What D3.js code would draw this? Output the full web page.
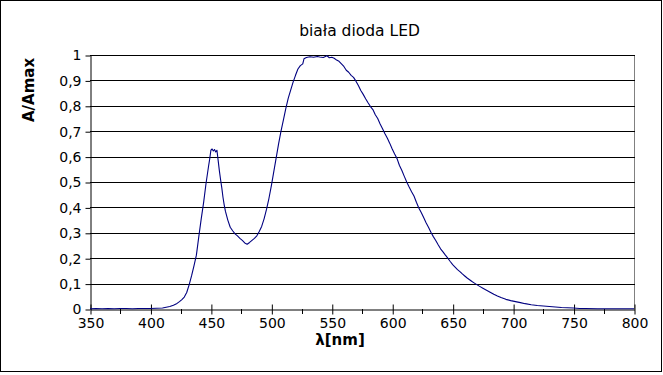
<!DOCTYPE html>
<html>
<head>
<meta charset="utf-8">
<script src="https://cdn.jsdelivr.net/npm/d3@7"></script>
<style>
  body { margin: 0; background: #fff; }
  svg { display: block; font-family: "DejaVu Sans", sans-serif; }
</style>
</head>
<body>
<svg id="chart" width="663" height="375"></svg>
<script>
// spectrum: wavelength [nm] and relative intensity
var wavelengths = [350,355,360,365,370,375,380,385,390,395,400,405,410,413,416,419,422,424,426,428,
  430,432,434,436,438,440,442,444,446,448,449,450,451,452,453,454,455,456,457,458,459,460,461,462,464,466,468,
  470,472,474,476,478,480,482,484,486,488,490,492,494,496,498,500,502,504,506,508,510,512,514,516,518,520,
  522,524,526,527,529,532,535,538,540,543,546,548,550,552,554,556,558,560,562,564,566,568,570,572,574,576,578,
  580,582,584,586,588,590,592,594,596,598,600,602,604,606,608,610,612,614,616,618,620,622,624,626,628,630,
  632,634,636,638,640,642,644,646,648,650,652,654,656,658,660,662,664,666,668,670,672,675,678,681,684,687,
  690,694,698,702,706,710,715,720,725,730,735,740,745,750,755,760,770,780,790,800];
var intensity = [0.001,0.002,0.001,0.002,0.001,0.002,0.002,0.001,0.002,0.002,0.002,0.003,0.004,0.007,0.010,0.015,0.022,0.029,0.037,0.047,
  0.065,0.095,0.130,0.170,0.212,0.285,0.355,0.420,0.495,0.560,0.590,0.625,0.630,0.622,0.628,0.618,0.625,0.585,0.545,0.510,0.478,0.440,0.410,0.385,0.350,0.322,0.308,
  0.296,0.288,0.278,0.270,0.260,0.255,0.262,0.270,0.278,0.288,0.305,0.325,0.355,0.392,0.435,0.485,0.540,0.595,0.650,0.700,0.745,0.790,0.830,0.862,0.893,0.920,
  0.945,0.958,0.965,0.985,0.990,0.993,0.991,0.994,0.992,0.990,0.997,0.989,0.991,0.987,0.980,0.975,0.965,0.955,0.940,0.932,0.920,0.912,0.897,0.880,0.860,0.845,0.828,
  0.812,0.797,0.785,0.765,0.750,0.728,0.710,0.690,0.672,0.652,0.630,0.610,0.592,0.565,0.545,0.522,0.500,0.480,0.462,0.445,0.420,0.398,0.380,0.360,0.340,0.322,
  0.302,0.285,0.270,0.253,0.237,0.225,0.212,0.200,0.187,0.175,0.165,0.155,0.147,0.138,0.130,0.122,0.115,0.108,0.102,0.096,0.090,0.082,0.074,0.066,0.058,0.051,
  0.045,0.038,0.033,0.029,0.025,0.021,0.017,0.014,0.012,0.010,0.008,0.006,0.005,0.004,0.002,0.002,0.001,0.001,0.001,0.001];

var xTicks = [350,400,450,500,550,600,650,700,750,800];
var xMinorTicks = [375,425,475,525,575,625,675,725,775];
var yTicks = [0,0.1,0.2,0.3,0.4,0.5,0.6,0.7,0.8,0.9,1];

var titleText = 'biała dioda LED';
var xLabelText = 'λ[nm]';
var yLabelText = 'A/Amax';

var svg = d3.select('#chart');
var plot = {left: 90, right: 634, top: 55, bottom: 309};

var x = d3.scaleLinear().domain([350, 800]).range([plot.left, plot.right]);
var y = d3.scaleLinear().domain([0, 1]).range([plot.bottom, plot.top]);

var pl = d3.formatLocale({decimal: ',', thousands: ' ', grouping: [3], currency: ['', '']});
var fmtY = function(d){ return d === 0 || d === 1 ? String(d) : pl.format('.1f')(d); };

// outer frame
svg.append('rect')
    .attr('x', 0.5).attr('y', 0.5)
    .attr('width', 661).attr('height', 371)
    .attr('fill', '#fff').attr('stroke', '#000');

// right edge of plot area
svg.append('line')
    .attr('x1', plot.right + 0.5).attr('x2', plot.right + 0.5)
    .attr('y1', plot.top).attr('y2', plot.bottom)
    .attr('stroke', '#808080');

// gridlines
svg.append('g').selectAll('line').data(yTicks.slice(1)).enter().append('line')
    .attr('x1', plot.left).attr('x2', plot.right + 1)
    .attr('y1', function(d){ return Math.round(y(d)) + 0.5; })
    .attr('y2', function(d){ return Math.round(y(d)) + 0.5; })
    .attr('stroke', '#000');

// y axis
var yAxis = svg.append('g')
    .attr('transform', 'translate(' + (plot.left + 0.5) + ',0.5)')
    .call(d3.axisLeft(y).tickValues(yTicks).tickFormat(fmtY).tickSize(5).tickSizeOuter(0).tickPadding(4));
yAxis.select('.domain').attr('stroke', '#000');
yAxis.selectAll('.tick line').attr('stroke', '#000');
yAxis.selectAll('text').attr('font-size', 14).attr('fill', '#000')
    .attr('font-family', '"DejaVu Sans", sans-serif');

// x axis
var xAxis = svg.append('g')
    .attr('transform', 'translate(0.5,' + (plot.bottom + 0.5) + ')')
    .call(d3.axisBottom(x).tickValues(xTicks).tickFormat(d3.format('d')).tickSize(5).tickSizeOuter(0).tickPadding(4));
xAxis.select('.domain').attr('stroke', '#000');
xAxis.selectAll('.tick line').attr('stroke', '#000').attr('y1', -5);
xAxis.selectAll('text').attr('font-size', 14).attr('fill', '#000')
    .attr('font-family', '"DejaVu Sans", sans-serif');

svg.append('g').selectAll('line').data(xMinorTicks).enter().append('line')
    .attr('x1', function(d){ return Math.round(x(d)) + 0.5; })
    .attr('x2', function(d){ return Math.round(x(d)) + 0.5; })
    .attr('y1', plot.bottom).attr('y2', plot.bottom + 5)
    .attr('stroke', '#000');

// spectrum curve
var points = wavelengths.map(function(w, i){ return [w, intensity[i]]; });
var line = d3.line()
    .x(function(d){ return x(d[0]); })
    .y(function(d){ return y(d[1]); });

svg.append('path')
    .datum(points)
    .attr('d', line)
    .attr('fill', 'none')
    .attr('stroke', '#000080')
    .attr('stroke-width', 1.1)
    .attr('stroke-linejoin', 'round');

// texts
svg.append('text')
    .attr('x', 359.5).attr('y', 36)
    .attr('text-anchor', 'middle')
    .attr('font-size', 15.5)
    .text(titleText);

svg.append('text')
    .attr('x', 340).attr('y', 345)
    .attr('text-anchor', 'middle')
    .attr('font-size', 15)
    .attr('font-weight', 'bold')
    .text(xLabelText);

svg.append('text')
    .attr('transform', 'translate(34,90) rotate(-90)')
    .attr('text-anchor', 'middle')
    .attr('font-size', 15)
    .attr('font-weight', 'bold')
    .text(yLabelText);
</script>
</body>
</html>
